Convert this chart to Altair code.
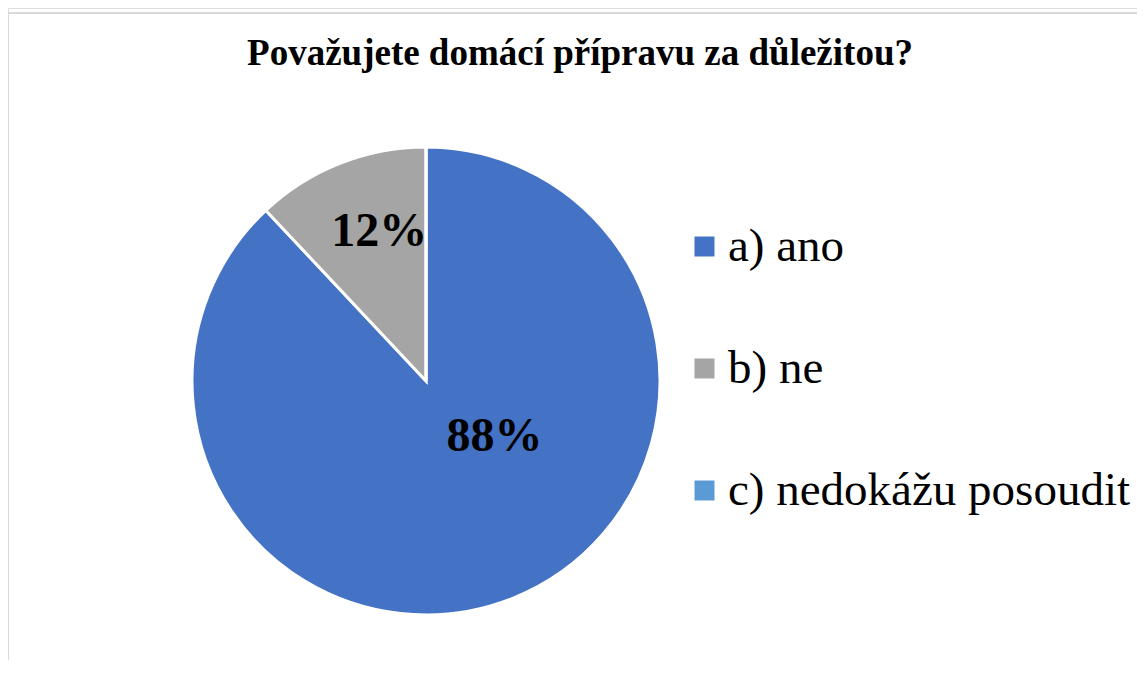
import altair as alt
import pandas as pd

title_text = "Považujete domácí přípravu za důležitou?"
categories = ["a) ano", "b) ne", "c) nedokážu posoudit"]
values = [88, 12, 0]
labels = ["88%", "12%", ""]
colors = ["#4472C4", "#A5A5A5", "#5B9BD5"]

df = pd.DataFrame({"kategorie": categories, "hodnota": values, "popisek": labels,
                   "poradi": [0, 1, 2]})

FONT = "Liberation Serif"
W, H = 1129, 652
CX, CY, R = 418, 373, 234

color = alt.Color(
    "kategorie:N",
    scale=alt.Scale(domain=categories, range=colors),
    legend=alt.Legend(
        title=None, orient="none", legendX=673, legendY=215,
        symbolType="square", symbolSize=400, symbolStrokeWidth=0,
        labelFont=FONT, labelFontSize=47, labelColor="#000000",
        labelOffset=0, rowPadding=74, padding=0, labelLimit=600,
    ),
)

base = alt.Chart(df).encode(
    theta=alt.Theta("hodnota:Q", stack=True),
    order=alt.Order("poradi:Q"),
)

pie = base.mark_arc(outerRadius=R, stroke="white", strokeWidth=3).encode(
    color=color, x=alt.value(CX), y=alt.value(CY)
)

lab12 = base.mark_text(radius=157, dx=11, dy=-3, font=FONT, fontSize=48,
                       fontWeight="bold", color="#000000").encode(
    text="t12:N", x=alt.value(CX), y=alt.value(CY)
).transform_calculate(
    t12="datum.kategorie == 'b) ne' ? datum.popisek : ''"
)

lab88 = base.mark_text(radius=88, dx=36, dy=-26, font=FONT, fontSize=48,
                       fontWeight="bold", color="#000000").encode(
    text="t88:N", x=alt.value(CX), y=alt.value(CY)
).transform_calculate(
    t88="datum.kategorie == 'a) ano' ? datum.popisek : ''"
)

title = alt.Chart(pd.DataFrame({"t": [title_text]})).mark_text(
    font=FONT, fontSize=37, fontWeight="bold", color="#000000", baseline="alphabetic"
).encode(text="t:N", x=alt.value(572), y=alt.value(57))

frame_top = alt.Chart(pd.DataFrame({"t": [0]})).mark_rule(
    color="#d9d9d9", strokeWidth=2
).encode(x=alt.value(-1), x2=alt.value(W + 20), y=alt.value(5))
frame_left = alt.Chart(pd.DataFrame({"t": [0]})).mark_rule(
    color="#d9d9d9", strokeWidth=2
).encode(x=alt.value(0), y=alt.value(5), y2=alt.value(H + 20))

chart = alt.layer(frame_top, frame_left, pie, lab12, lab88, title).properties(
    width=W, height=H, padding=0, autosize=alt.AutoSizeParams(type="none")
).configure_view(stroke=None).configure(background="white", font=FONT)

chart.save("out.html", embed_options={"renderer": "svg", "actions": False})
